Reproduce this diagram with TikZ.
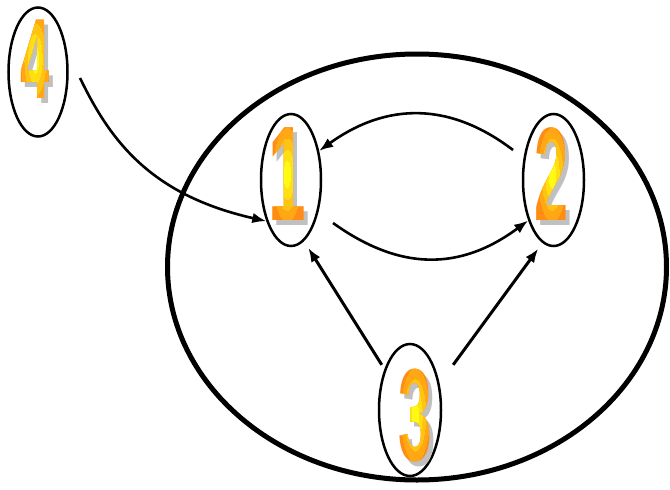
\documentclass[tikz,border=0pt]{standalone}
\usepackage{fontspec}
\usepackage{graphicx}
\usetikzlibrary{shapes.geometric,arrows.meta}
\newfontfamily\dfont{Liberation Sans}
\definecolor{cOr}{RGB}{255,140,20}
\definecolor{cYe}{RGB}{255,250,20}
\definecolor{cSh}{RGB}{192,192,192}
\newcommand\dgt[3]{\scalebox{#2}[1]{\dfont\bfseries\fontsize{#1}{#1}\selectfont #3}}
% #1 name, #2 x, #3 y, #4 size, #5 xscale, #6 digit
\newcommand\mydigit[6]{%
  \node[dtext, text=cSh] (#1s) at (#2+4,#3+5) {\dgt{#4}{#5}{#6}};
  \node[dtext] (#1) at (#2,#3) {\dgt{#4}{#5}{#6}};
  \foreach \k/\c in {1/25,2/50,3/75,4/100}{%
    \begin{scope}
      \clip (#2,#3) ellipse ({18-3.6*\k} and {58-11*\k});
      \node[dtext, text=cYe!\c!cOr] (#1l\k) at (#2,#3) {\dgt{#4}{#5}{#6}};
    \end{scope}}%
}
\begin{document}
\begin{tikzpicture}[x=1pt,y=-1pt,
  ell/.style={ellipse, draw, line width=2.5pt, inner sep=0pt},
  dtext/.style={inner sep=0pt, text=cOr},
  arr/.style={-{Latex[length=14pt,width=10.5pt]}, line width=2.6pt},
  arrs/.style={arr, line width=3pt}]
\useasboundingbox (0,0) rectangle (670,490);
% big ellipse
\node[ellipse, draw, line width=5pt, minimum width=499, minimum height=426, inner sep=0pt] (big) at (417,267) {};
% small ellipses
\node[ell, minimum width=59, minimum height=129] (n4) at (38,72) {};
\node[ell, minimum width=60, minimum height=132] (n1) at (291,180) {};
\node[ell, minimum width=61, minimum height=132] (n2) at (553.5,180) {};
\node[ell, minimum width=62, minimum height=132] (n3) at (410,410) {};
% digits
\mydigit{d4}{35}{59}{114}{0.46}{4}
\mydigit{d1}{287}{174.5}{135}{0.5}{1}
\mydigit{d2}{552}{174.5}{133}{0.46}{2}
\mydigit{d3}{415}{415}{131}{0.46}{3}
% start points of curved connectors
\coordinate (s41) at (80,78);
\coordinate (s21) at (513,150);
\coordinate (s12) at (333,223);
% connectors
\draw[arr] (s41) .. controls (110,140) and (150,195) .. (n1.239);
\draw[arr] (s21) .. controls (450,102) and (387,102) .. (n1.46);
\draw[arr] (s12) .. controls (400,271) and (460,271) .. (n2.238);
\draw[arrs, shorten <=5pt, shorten >=8pt] (n3.122) -- (n1.282);
\draw[arrs, shorten <=23pt, shorten >=7pt] (n3.42) -- (n2.260);
\end{tikzpicture}
\end{document}
